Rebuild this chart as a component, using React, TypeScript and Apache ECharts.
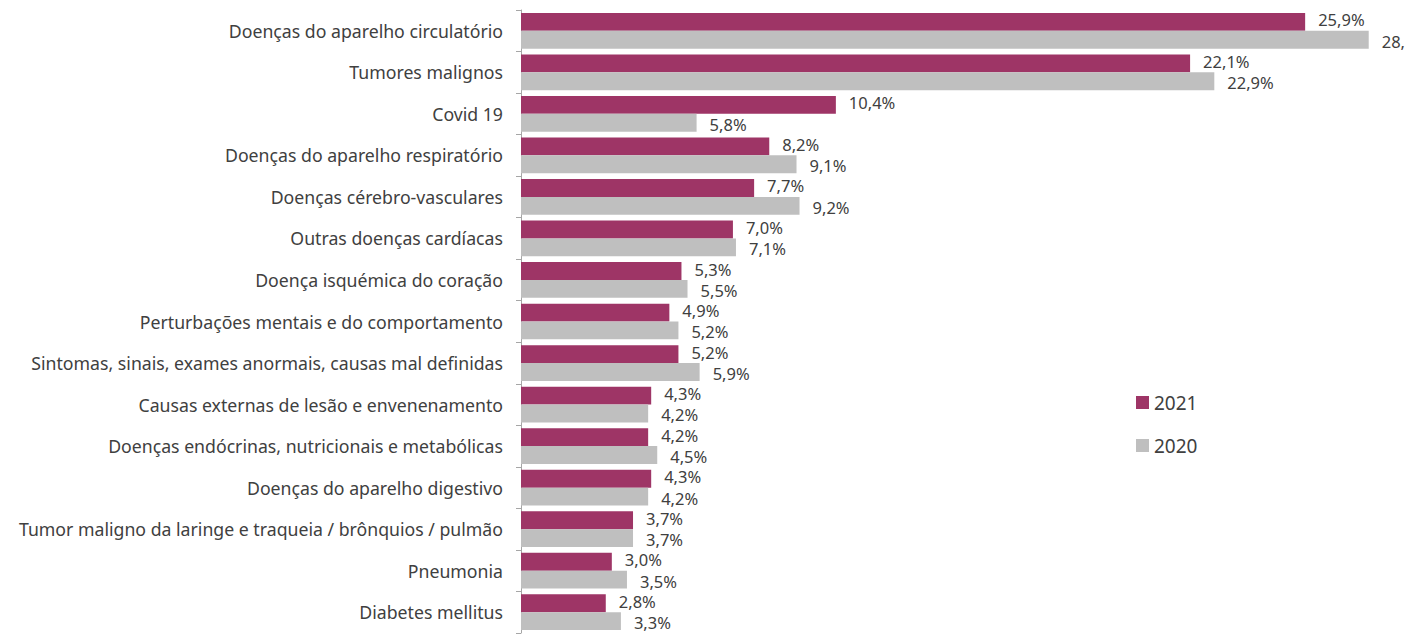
import React, { useEffect, useRef } from "react";
import * as echarts from "echarts";

const categories = [
  "Doenças do aparelho circulatório",
  "Tumores malignos",
  "Covid 19",
  "Doenças do aparelho respiratório",
  "Doenças cérebro-vasculares",
  "Outras doenças cardíacas",
  "Doença isquémica do coração",
  "Perturbações mentais e do comportamento",
  "Sintomas, sinais, exames anormais, causas mal definidas",
  "Causas externas de lesão e envenenamento",
  "Doenças endócrinas, nutricionais e metabólicas",
  "Doenças do aparelho digestivo",
  "Tumor maligno da laringe e traqueia / brônquios / pulmão",
  "Pneumonia",
  "Diabetes mellitus",
];
const values2021 = [25.9, 22.1, 10.4, 8.2, 7.7, 7.0, 5.3, 4.9, 5.2, 4.3, 4.2, 4.3, 3.7, 3.0, 2.8];
const values2020 = [28.0, 22.9, 5.8, 9.1, 9.2, 7.1, 5.5, 5.2, 5.9, 4.2, 4.5, 4.2, 3.7, 3.5, 3.3];

const fmt = (p: any) => (p.value as number).toFixed(1).replace(".", ",") + "%";

export default function App() {
  const ref = useRef<HTMLDivElement>(null);
  useEffect(() => {
    document.body.style.margin = "0";
    const chart = echarts.init(ref.current!, undefined, { renderer: "svg" });
    const font = "Noto Sans";
    const labelStyle = (dy: number) => ({
      show: true,
      position: "right" as const,
      distance: 13,
      offset: [0, dy],
      formatter: fmt,
      color: "#404040",
      fontSize: 16.5,
      lineHeight: 18,
      fontFamily: font,
    });
    chart.setOption({
      animation: false,
      backgroundColor: "#ffffff",
      textStyle: { fontFamily: font },
      grid: { left: 521, right: 6, top: 10, bottom: 1, containLabel: false },
      legend: {
        orient: "vertical",
        left: 1131,
        top: 388,
        itemGap: 24,
        itemWidth: 13,
        itemHeight: 13,
        icon: "rect",
        data: ["2021", "2020"],
        textStyle: { fontSize: 19, color: "#404040", fontFamily: font },
      },
      xAxis: {
        type: "value",
        min: 0,
        max: 29,
        show: false,
      },
      yAxis: {
        type: "category",
        inverse: true,
        data: categories,
        axisLine: { show: true, lineStyle: { color: "#a6a6a6", width: 1 } },
        axisTick: { show: true, length: 5, lineStyle: { color: "#a6a6a6" } },
        axisLabel: { color: "#404040", fontSize: 17.7, fontFamily: font, margin: 18 },
        splitLine: { show: false },
      },
      series: [
        {
          name: "2021",
          type: "bar",
          data: values2021,
          itemStyle: { color: "#9e3566" },
          barGap: "0%",
          barCategoryGap: "14%",
          label: labelStyle(-2),
        },
        {
          name: "2020",
          type: "bar",
          data: values2020,
          itemStyle: { color: "#bfbfbf" },
          barGap: "0%",
          barCategoryGap: "14%",
          label: labelStyle(1.5),
        },
      ],
    });
    return () => chart.dispose();
  }, []);
  return <div ref={ref} style={{ width: 1405, height: 634 }} />;
}
